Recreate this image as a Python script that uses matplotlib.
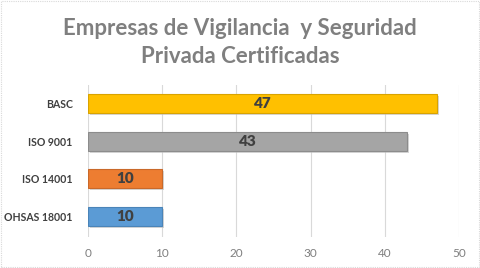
import matplotlib.pyplot as plt
import matplotlib.patheffects as pe

categories = ["OHSAS 18001", "ISO 14001", "ISO 9001", "BASC"]
values = [10, 10, 43, 47]
colors = ["#5B9BD5", "#ED7D31", "#A5A5A5", "#FFC000"]
edges = ["#4A84B8", "#C9692A", "#8C8C8C", "#D9A300"]
xticks = [0, 10, 20, 30, 40, 50]

plt.rcParams['font.family'] = ['Lato', 'DejaVu Sans']

fig = plt.figure(figsize=(4.8, 2.68), dpi=100)
ax = fig.add_axes([0.1833, 0.116, 0.7729, 0.567])

shadow = [pe.SimplePatchShadow(offset=(1.5, -1.5), shadow_rgbFace="#BBBBBB", alpha=0.6), pe.Normal()]
bars = ax.barh(range(len(categories)), values, height=0.5, color=colors,
               edgecolor=edges, linewidth=0.8, zorder=3)
for b in bars:
    b.set_path_effects(shadow)

for i, v in enumerate(values):
    ax.text(v / 2, i, str(v), ha="center", va="center", fontsize=11,
            fontweight="heavy", color="#404040", zorder=4)

ax.set_xlim(0, 50)
ax.set_ylim(-0.55, 3.5)
ax.set_xticks(xticks)
ax.set_yticks(range(len(categories)))
ax.set_yticklabels(categories, fontsize=7.6, color="#404040", fontweight="bold")
ax.tick_params(axis="x", labelsize=8.5, colors="#7F7F7F", length=0, pad=8)
ax.tick_params(axis="y", length=0, pad=11)
ax.grid(axis="x", color="#D9D9D9", linewidth=0.8, zorder=0)
for s in ax.spines.values():
    s.set_visible(False)

fig.text(0.5, 0.895, "Empresas de Vigilancia  y Seguridad", ha="center", va="center",
         fontsize=16, fontweight="bold", color="#7F7F7F")
fig.text(0.5, 0.79, "Privada Certificadas", ha="center", va="center",
         fontsize=16, fontweight="bold", color="#7F7F7F")

fig.patches.append(plt.Rectangle((0.002, 0.004), 0.996, 0.992, transform=fig.transFigure,
                                 fill=False, edgecolor="#D9D9D9", linewidth=0.8, linestyle=(0, (1, 1))))

fig.savefig("out.png", dpi=100)
